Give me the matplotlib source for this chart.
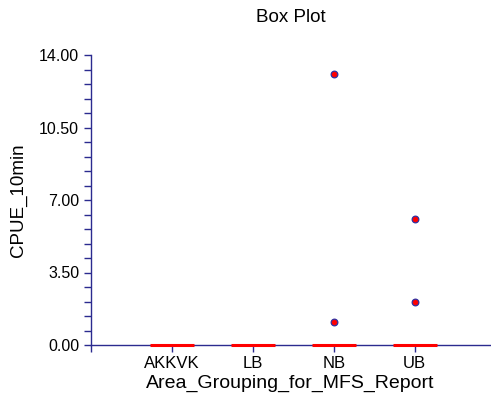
import matplotlib
matplotlib.use("Agg")
import matplotlib.pyplot as plt
from matplotlib.ticker import MultipleLocator, FixedLocator

plt.rcParams['font.family'] = ['Liberation Sans', 'DejaVu Sans']

categories = ["AKKVK", "LB", "NB", "UB"]
medians = [0.0, 0.0, 0.0, 0.0]
outliers = {"NB": [13.1, 1.1], "UB": [6.1, 2.1]}
y_ticks = [0.0, 3.5, 7.0, 10.5, 14.0]

navy = "#2b2b8f"

fig = plt.figure(figsize=(4.91, 3.97), dpi=100)
ax = fig.add_axes([91 / 491, 1 - 345 / 397, 399 / 491, 290 / 397])

positions = list(range(1, len(categories) + 1))
half_w = 0.27
for pos, cat, med in zip(positions, categories, medians):
    ax.plot([pos - half_w, pos + half_w], [med, med], color="#ff0000", lw=2.2,
            solid_capstyle="butt", zorder=3, clip_on=False)
    for v in outliers.get(cat, []):
        ax.plot(pos, v, "o", ms=4.8, mfc="#ff0000", mec="#3030a0", mew=0.9,
                zorder=4, clip_on=False)

ax.set_xlim(0, 4.93)
ax.set_ylim(0, 14)
ax.xaxis.set_major_locator(FixedLocator([0] + positions))
ax.set_xticklabels([""] + categories)
ax.set_yticks(y_ticks)
ax.set_yticklabels([f"{t:.2f}" for t in y_ticks])
ax.yaxis.set_minor_locator(MultipleLocator(0.7))

for side in ("top", "right"):
    ax.spines[side].set_visible(False)
for side in ("left", "bottom"):
    ax.spines[side].set_color(navy)
    ax.spines[side].set_linewidth(1.0)

ax.tick_params(axis="both", which="major", length=5, width=1, color=navy,
               labelcolor="black")
ax.tick_params(axis="y", labelsize=11.5)
ax.tick_params(axis="x", labelsize=12, pad=3)
ax.tick_params(axis="y", which="minor", length=5, width=1, color=navy)

ax.set_xlabel("Area_Grouping_for_MFS_Report", fontsize=14, labelpad=3)
ax.set_ylabel("CPUE_10min", fontsize=13.5, labelpad=9)
ax.set_title("Box Plot", fontsize=13.5, pad=24)

fig.savefig("out.png", dpi=100)
